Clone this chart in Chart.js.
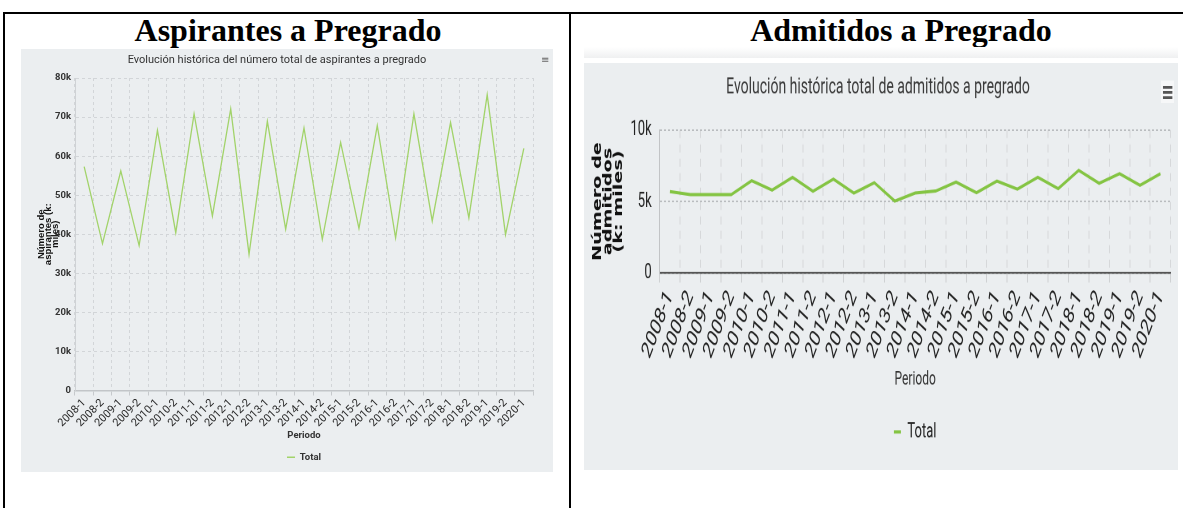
<!DOCTYPE html>
<html><head><meta charset="utf-8">
<script src="https://cdn.jsdelivr.net/npm/chart.js@4.4.0/dist/chart.umd.min.js"></script>
<style>
html,body{margin:0;padding:0;background:#fff;width:1183px;height:508px;overflow:hidden;position:relative}
.ln{position:absolute;background:#000}
.hdr{position:absolute;top:14px;font-family:'Liberation Serif','Times New Roman',serif;font-weight:bold;font-size:32px;line-height:32px;white-space:nowrap;transform:translateX(-50%);color:#000}
.panel{position:absolute;background:#ebeef0}
#cL{position:absolute;left:21px;top:49px}
#wrapR{position:absolute;left:584px;top:63px;width:594px;height:254px;transform:scaleY(1.6);transform-origin:0 0}
#cR{position:absolute;left:0;top:0}
.menuL{position:absolute;left:541px;top:54px;font:10px 'DejaVu Sans',sans-serif;color:#666;line-height:12px}
.menuR{position:absolute;left:577px;top:10.5px;width:13px;height:14px;background:#f6f7f8;font:bold 15px 'DejaVu Sans',sans-serif;color:#555;line-height:14px;text-align:center}
#shadowR{position:absolute;left:584px;top:47px;width:594px;height:11px;background:linear-gradient(to bottom,#ffffff,#eff0f1)}
</style></head>
<body>
<div class="ln" style="left:3px;top:12px;width:1180px;height:2px"></div>
<div class="ln" style="left:3px;top:12px;width:2px;height:496px"></div>
<div class="ln" style="left:569px;top:12px;width:2px;height:496px"></div>
<div class="hdr" style="left:288px">Aspirantes a Pregrado</div>
<div class="hdr" style="left:901px">Admitidos a Pregrado</div>
<div class="panel" style="left:21px;top:49px;width:532px;height:423px"></div>
<div id="shadowR"></div>
<div class="panel" style="left:584px;top:63px;width:594px;height:407px"></div>
<canvas id="cL" width="532" height="423"></canvas>
<div class="menuL">≡</div>
<div id="wrapR"><canvas id="cR" width="594" height="254"></canvas><div class="menuR">≡</div></div>
<script>
const periods = ['2008-1','2008-2','2009-1','2009-2','2010-1','2010-2','2011-1','2011-2','2012-1','2012-2','2013-1','2013-2','2014-1','2014-2','2015-1','2015-2','2016-1','2016-2','2017-1','2017-2','2018-1','2018-2','2019-1','2019-2','2020-1'];
const aspirantes = [57300,37600,56200,37100,66600,40400,70800,44700,72100,34900,68900,41300,67200,38700,63500,41500,67800,39100,70800,43400,68600,44200,75700,39900,62000];
const admitidos = [5690,5480,5480,5480,6460,5800,6690,5710,6570,5590,6320,5030,5590,5730,6360,5620,6430,5870,6690,5900,7180,6270,6950,6140,6940];
const aspYTicks = ['0','10k','20k','30k','40k','50k','60k','70k','80k'];
const admYTicks = ['0','5k','10k'];
const titleL = 'Evolución histórica del número total de aspirantes a pregrado';
const titleR = 'Evolución histórica total de admitidos a pregrado';
const yTitleL = ['Número de','aspirantes (k:','miles)'];
const yTitleR = ['Número de','admitidos','(k: miles)'];
const xTitle = 'Periodo';
const seriesName = 'Total';

const F = "Roboto, 'Liberation Sans', sans-serif";

new Chart(document.getElementById('cL'), {
  type: 'line',
  data: { labels: periods, datasets: [{ label: seriesName, data: aspirantes, borderColor: '#a2d36a', backgroundColor: '#a2d36a', borderWidth: 1.3, pointRadius: 0, tension: 0, fill: false }] },
  options: {
    responsive: false, animation: false, devicePixelRatio: 1,
    layout: { padding: { left: 0, right: 20, top: 0, bottom: 0 } },
    plugins: {
      title: { display: true, text: titleL, color: '#333', font: { family: F, size: 11, weight: 'normal', lineHeight: 1.2 }, padding: { top: 5, bottom: 10.8 } },
      legend: { position: 'bottom', fullSize: false, labels: { usePointStyle: true, pointStyle: 'line', pointStyleWidth: 8, color: '#333', font: { family: F, size: 9.5, weight: 'bold' }, padding: 10 } },
      tooltip: { enabled: false }
    },
    scales: {
      x: {
        offset: true,
        grid: { offset: true, color: '#d2d5d8', lineWidth: 1, tickLength: 5, tickColor: '#c6c9cc', tickBorderDash: [] },
        border: { display: true, color: '#c2c5c8', width: 1.5, dash: [3, 3] },
        ticks: { autoSkip: false, maxRotation: 45, minRotation: 45, color: '#2a2a2a', font: { family: F, size: 11 }, padding: 1 },
        title: { display: true, text: xTitle, color: '#333', font: { family: F, size: 9.5, weight: 'bold', lineHeight: 1.2 }, padding: { top: 0, bottom: 1 } },
        afterFit(s) { s.height = 52; }
      },
      y: {
        min: 0, max: 80000,
        grid: { color: '#d2d5d8', drawTicks: false },
        border: { display: true, color: '#cfd2d5', width: 1, dash: [3, 3] },
        ticks: { stepSize: 10000, color: '#333', font: { family: F, size: 9.5, weight: 'bold' }, padding: 4, callback: (v, i) => aspYTicks[i] },
        title: { display: true, text: yTitleL, color: '#111', font: { family: "'Liberation Sans', Arial, sans-serif", size: 9.5, weight: 'bold', lineHeight: '7.2px' }, padding: { top: 16.5, bottom: 0 } },
        afterFit(s) { s.width = 54; }
      }
    }
  }
});

new Chart(document.getElementById('cR'), {
  type: 'line',
  data: { labels: periods, datasets: [{ label: seriesName, data: admitidos, borderColor: '#84c443', backgroundColor: '#84c443', borderWidth: 2, pointRadius: 0, tension: 0, fill: false }] },
  options: {
    responsive: false, animation: false, devicePixelRatio: 2,
    layout: { padding: { left: 0, right: 6, top: 0, bottom: 6.9 } },
    plugins: {
      title: { display: true, text: titleR, color: '#3a3a3a', font: { family: F, size: 14, weight: 'normal', lineHeight: 1.2 }, padding: { top: 7.2, bottom: 17.9 } },
      legend: { position: 'bottom', fullSize: false, labels: { usePointStyle: true, pointStyle: 'line', pointStyleWidth: 7, color: '#222', font: { family: F, size: 13 }, padding: 10 } },
      tooltip: { enabled: false }
    },
    scales: {
      x: {
        offset: true,
        grid: { offset: true, color: '#d6d8da', lineWidth: 1, tickLength: 6, tickColor: '#cfd1d3', tickBorderDash: [] },
        border: { display: true, color: '#555', width: 1.3, dash: [5, 4] },
        ticks: { autoSkip: false, maxRotation: 59, minRotation: 59, color: '#222', font: { family: F, size: 15 }, padding: 2 },
        title: { display: true, text: xTitle, color: '#333', font: { family: F, size: 12, lineHeight: 1.2 }, padding: { top: 0, bottom: 8.9 } },
        afterFit(s) { s.height = 82.85; }
      },
      y: {
        min: 0, max: 10000,
        grid: { color: '#b9bcbf', drawTicks: false },
        border: { display: true, color: '#c2c4c6', width: 1, dash: [2, 2] },
        ticks: { stepSize: 5000, color: '#222', font: { family: F, size: 13 }, padding: 8, callback: (v, i) => admYTicks[i] },
        title: { display: true, text: yTitleR, color: '#111', font: { family: "'DejaVu Sans', sans-serif", size: 12, weight: 'bold', lineHeight: '10.5px' }, padding: { top: 8.75, bottom: 0 } },
        afterFit(s) { s.width = 75.7; }
      }
    }
  }
});
</script>
</body></html>
